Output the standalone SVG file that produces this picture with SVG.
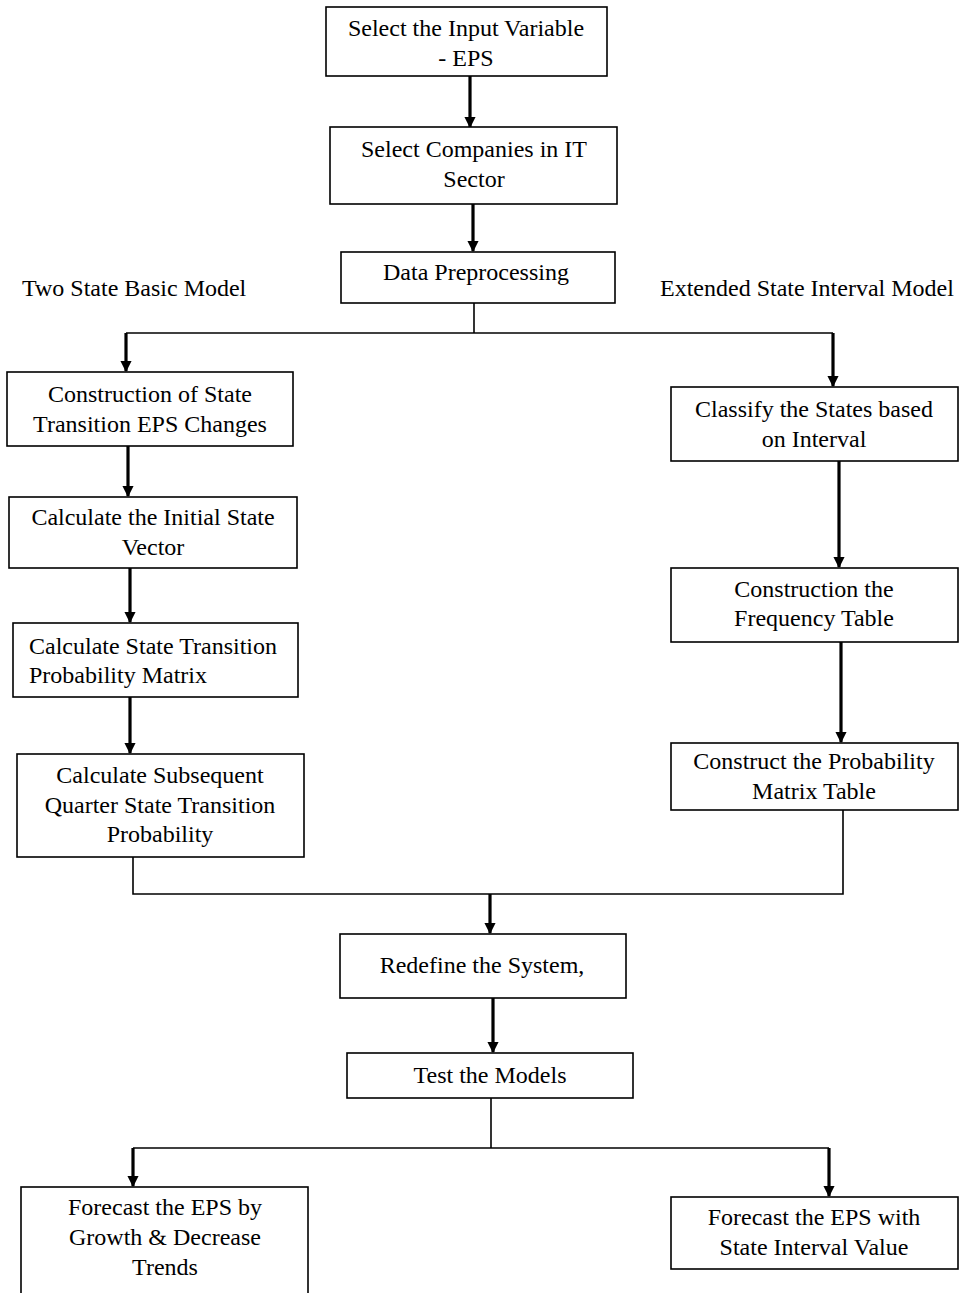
<svg xmlns="http://www.w3.org/2000/svg" width="960" height="1293" viewBox="0 0 960 1293">
<defs>
<marker id="ah" viewBox="0 0 10 10" refX="9" refY="5" markerWidth="3.6" markerHeight="3.6" markerUnits="strokeWidth" orient="auto">
<path d="M0,0 L10,5 L0,10 z" fill="#000"/>
</marker>
<style>
.box{fill:#fff;stroke:#000;stroke-width:1.6}
text{font-family:"Liberation Serif","Times New Roman",serif;font-size:24px;fill:#000}
.c{text-anchor:middle}
.arr{stroke:#000;stroke-width:3.2;fill:none;marker-end:url(#ah)}
.ln{stroke:#000;stroke-width:1.6;fill:none}
</style>
</defs>
<rect width="960" height="1293" fill="#fff"/>
<g id="connectors">
<line class="arr" x1="470" y1="76" x2="470" y2="127"/>
<line class="arr" x1="473" y1="204" x2="473" y2="251"/>
<polyline class="ln" points="474,303 474,333"/>
<polyline class="ln" points="126,333 833,333"/>
<line class="arr" x1="126" y1="333" x2="126" y2="371"/>
<line class="arr" x1="833" y1="333" x2="833" y2="386"/>
<line class="arr" x1="128" y1="446" x2="128" y2="496"/>
<line class="arr" x1="130" y1="568" x2="130" y2="622"/>
<line class="arr" x1="130" y1="697" x2="130" y2="753"/>
<line class="arr" x1="839" y1="461" x2="839" y2="567"/>
<line class="arr" x1="841" y1="642" x2="841" y2="742"/>
<polyline class="ln" points="133,857 133,894 843,894 843,810"/>
<line class="arr" x1="490" y1="894" x2="490" y2="933"/>
<line class="arr" x1="493" y1="998" x2="493" y2="1052"/>
<polyline class="ln" points="491,1098 491,1148"/>
<polyline class="ln" points="133,1148 829,1148"/>
<line class="arr" x1="133" y1="1148" x2="133" y2="1186"/>
<line class="arr" x1="829" y1="1148" x2="829" y2="1196"/>
</g>
<g id="label-left"><text x="22" y="296">Two State Basic Model</text></g>
<g id="label-right"><text x="660" y="296">Extended State Interval Model</text></g>
<g id="n1"><rect class="box" x="326" y="7" width="281" height="69"/>
<text class="c" x="466" y="36">Select the Input Variable</text><text class="c" x="466" y="66">- EPS</text></g>
<g id="n2"><rect class="box" x="330" y="127" width="287" height="77"/>
<text class="c" x="474" y="157">Select Companies in IT</text><text class="c" x="474" y="187">Sector</text></g>
<g id="n3"><rect class="box" x="341" y="252" width="274" height="51"/>
<text class="c" x="476" y="280">Data Preprocessing</text></g>
<g id="n4"><rect class="box" x="7" y="372" width="286" height="74"/>
<text class="c" x="150" y="402">Construction of State</text><text class="c" x="150" y="432">Transition EPS Changes</text></g>
<g id="n5"><rect class="box" x="9" y="497" width="288" height="71"/>
<text class="c" x="153" y="525">Calculate the Initial State</text><text class="c" x="153" y="555">Vector</text></g>
<g id="n6"><rect class="box" x="13" y="623" width="285" height="74"/>
<text x="29" y="654">Calculate State Transition</text><text x="29" y="683">Probability Matrix</text></g>
<g id="n7"><rect class="box" x="17" y="754" width="287" height="103"/>
<text class="c" x="160" y="783">Calculate Subsequent</text><text class="c" x="160" y="813">Quarter State Transition</text><text class="c" x="160" y="842">Probability</text></g>
<g id="n8"><rect class="box" x="671" y="387" width="287" height="74"/>
<text class="c" x="814" y="417">Classify the States based</text><text class="c" x="814" y="447">on Interval</text></g>
<g id="n9"><rect class="box" x="671" y="568" width="287" height="74"/>
<text class="c" x="814" y="597">Construction the</text><text class="c" x="814" y="626">Frequency Table</text></g>
<g id="n10"><rect class="box" x="671" y="743" width="287" height="67"/>
<text class="c" x="814" y="769">Construct the Probability</text><text class="c" x="814" y="799">Matrix Table</text></g>
<g id="n11"><rect class="box" x="340" y="934" width="286" height="64"/>
<text class="c" x="482" y="973">Redefine the System,</text></g>
<g id="n12"><rect class="box" x="347" y="1053" width="286" height="45"/>
<text class="c" x="490" y="1083">Test the Models</text></g>
<g id="n13"><rect class="box" x="21" y="1187" width="287" height="120"/>
<text class="c" x="165" y="1215">Forecast the EPS by</text><text class="c" x="165" y="1245">Growth &amp; Decrease</text><text class="c" x="165" y="1275">Trends</text></g>
<g id="n14"><rect class="box" x="671" y="1197" width="287" height="72"/>
<text class="c" x="814" y="1225">Forecast the EPS with</text><text class="c" x="814" y="1255">State Interval Value</text></g>
</svg>
